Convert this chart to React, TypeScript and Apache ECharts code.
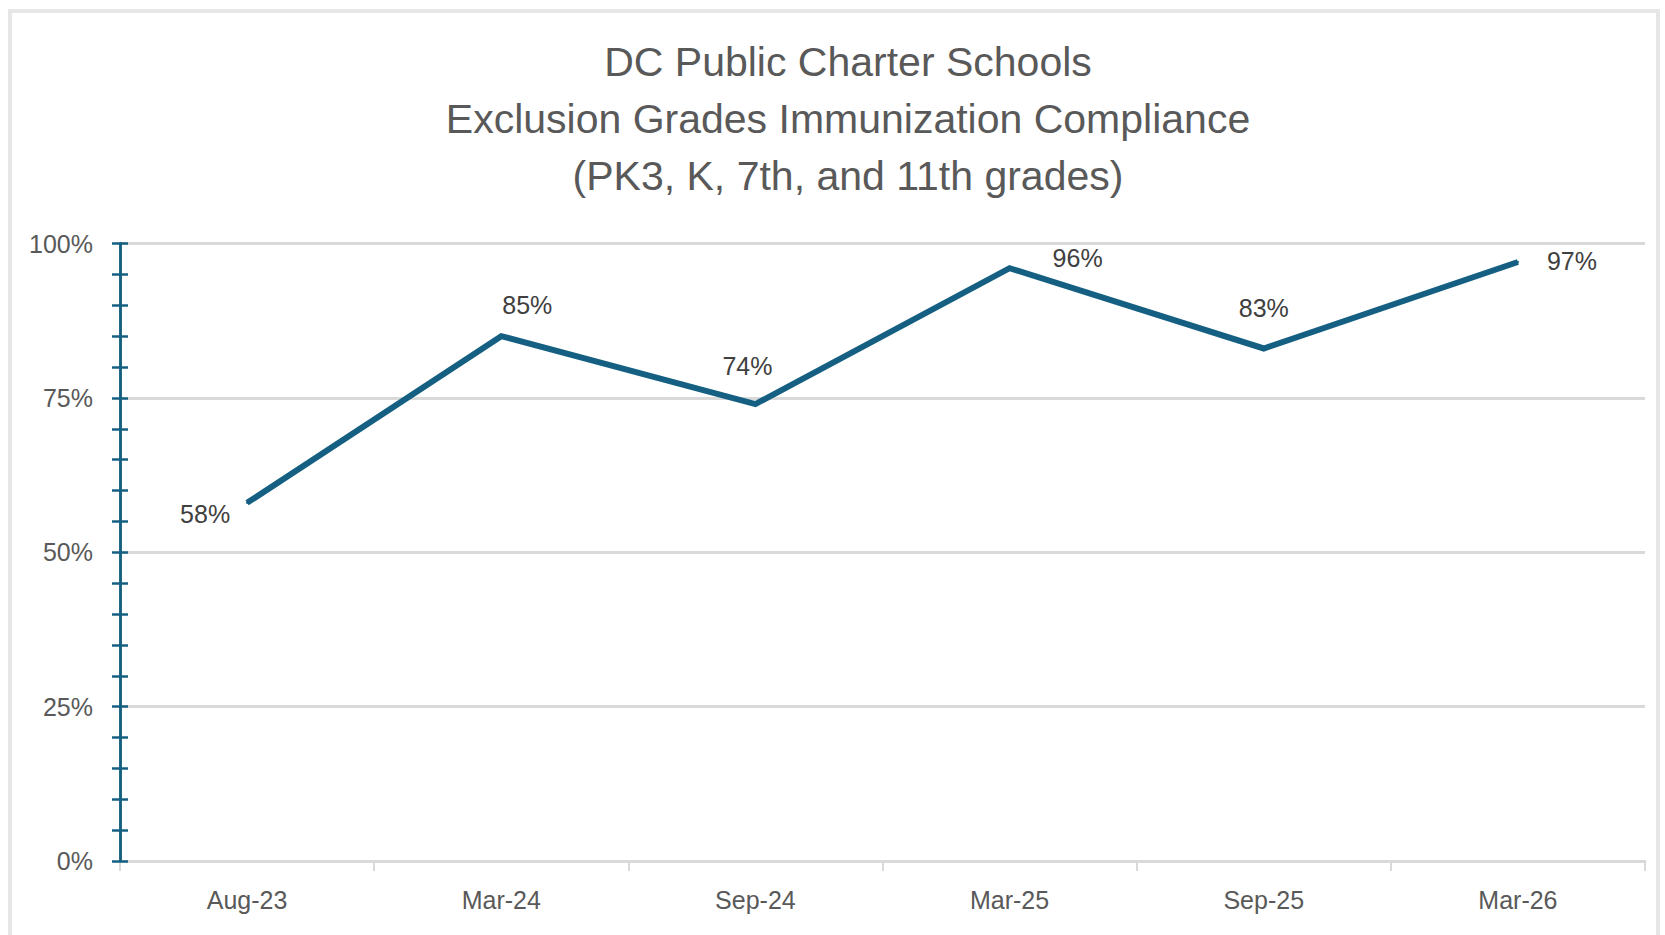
import React, { useEffect, useRef } from "react";
import * as echarts from "echarts";

const categories = ["Aug-23", "Mar-24", "Sep-24", "Mar-25", "Sep-25", "Mar-26"];
const complianceValues = [58, 85, 74, 96, 83, 97];
const titleLines = [
  "DC Public Charter Schools",
  "Exclusion Grades Immunization Compliance",
  "(PK3, K, 7th, and 11th grades)",
];
// label placement offsets (layout only)
const labelOffsets = [
  [-42, 11],
  [26, -31],
  [-8, -38],
  [68, -10],
  [0, -40],
  [54, -1],
];

const FONT = "'Liberation Sans', Arial, sans-serif";
const BLUE = "#156082";

export default function App() {
  const ref = useRef<HTMLDivElement>(null);
  useEffect(() => {
    if (!ref.current) return;
    const chart = echarts.init(ref.current, null, { renderer: "svg" });
    const gridBox = { left: 120, right: 20, top: 243.5, bottom: 74, containLabel: false };
    chart.setOption({
      animation: false,
      backgroundColor: "#ffffff",
      title: {
        text: titleLines.join("\n"),
        left: 848,
        top: 33,
        textAlign: "center",
        padding: 0,
        textStyle: {
          fontFamily: FONT,
          fontSize: 41,
          lineHeight: 57,
          fontWeight: "normal",
          color: "#595959",
        },
      },
      graphic: [
        {
          type: "rect",
          shape: { x: 10, y: 11, width: 1648, height: 960 },
          style: { fill: "none", stroke: "#e6e6e6", lineWidth: 4 },
          silent: true,
        },
      ],
      grid: [gridBox, { ...gridBox }],
      xAxis: [
        {
          type: "category",
          gridIndex: 0,
          data: categories,
          boundaryGap: true,
          axisLine: { show: true, lineStyle: { color: "#d9d9d9", width: 3 } },
          axisTick: {
            show: true,
            alignWithLabel: false,
            length: 10,
            lineStyle: { color: "#d9d9d9", width: 2 },
          },
          axisLabel: {
            color: "#595959",
            fontFamily: FONT,
            fontSize: 25,
            margin: 26,
          },
          splitLine: { show: false },
        },
        {
          type: "category",
          gridIndex: 1,
          data: categories,
          show: false,
        },
      ],
      yAxis: [
        {
          type: "value",
          gridIndex: 0,
          min: 0,
          max: 100,
          interval: 25,
          position: "left",
          axisLine: { show: true, lineStyle: { color: BLUE, width: 2.5 } },
          axisTick: { show: true, inside: false, length: 8, lineStyle: { color: BLUE, width: 2.5 } },
          minorTick: { show: true, splitNumber: 5, length: 8, lineStyle: { color: BLUE, width: 2.5 } },
          axisLabel: {
            color: "#595959",
            fontFamily: FONT,
            fontSize: 25,
            margin: 27,
            formatter: (v: number) => v + "%",
          },
          splitLine: { show: true, lineStyle: { color: "#d9d9d9", width: 3 } },
          z: 3,
        },
        {
          type: "value",
          gridIndex: 1,
          min: 0,
          max: 100,
          interval: 25,
          position: "left",
          axisLine: { show: true, lineStyle: { color: BLUE, width: 2.5 } },
          axisTick: { show: true, inside: true, length: 8, lineStyle: { color: BLUE, width: 2.5 } },
          minorTick: { show: true, splitNumber: 5, length: 8, lineStyle: { color: BLUE, width: 2.5 } },
          axisLabel: { show: false },
          splitLine: { show: false },
          z: 3,
        },
      ],
      series: [
        {
          type: "line",
          xAxisIndex: 0,
          yAxisIndex: 0,
          data: complianceValues.map((v, i) => ({
            value: v,
            label: { offset: labelOffsets[i] },
          })),
          symbol: "circle",
          symbolSize: 2,
          showSymbol: true,
          itemStyle: { color: BLUE },
          lineStyle: { color: BLUE, width: 6, join: "miter" },
          label: {
            show: true,
            position: "inside",
            align: "center",
            verticalAlign: "middle",
            color: "#404040",
            fontFamily: FONT,
            fontSize: 25,
            formatter: (p: any) => p.value + "%",
          },
          z: 5,
        },
      ],
    });
    return () => chart.dispose();
  }, []);
  return (
    <div
      ref={ref}
      style={{ position: "fixed", left: 0, top: 0, width: 1665, height: 935 }}
    />
  );
}
